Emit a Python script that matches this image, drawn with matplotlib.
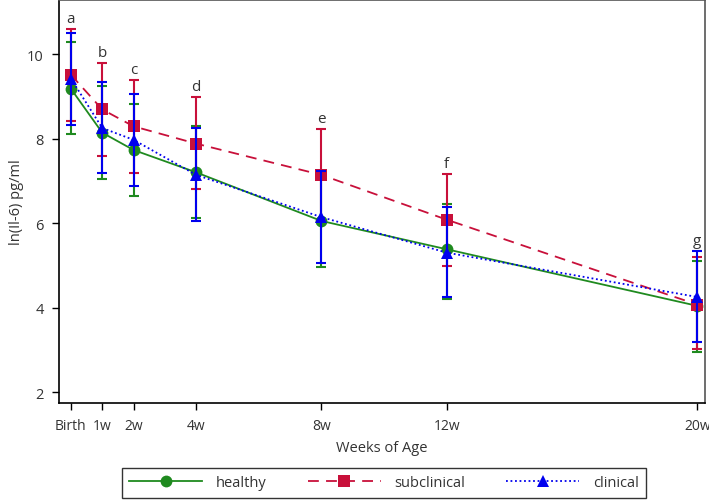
import matplotlib
matplotlib.use("Agg")
import matplotlib.pyplot as plt

plt.rcParams["font.family"] = ["Open Sans", "DejaVu Sans"]

# data
weeks = [0, 1, 2, 4, 8, 12, 20]
tick_labels = ["Birth", "1w", "2w", "4w", "8w", "12w", "20w"]
letters = ["a", "b", "c", "d", "e", "f", "g"]

healthy = [9.18, 8.14, 7.73, 7.20, 6.05, 5.38, 4.04]
healthy_lo = [8.11, 7.04, 6.65, 6.12, 4.97, 4.20, 2.94]
healthy_hi = [10.28, 9.24, 8.82, 8.30, 7.13, 6.44, 5.11]

subclinical = [9.51, 8.69, 8.29, 7.88, 7.14, 6.08, 4.07]
subclinical_lo = [8.42, 7.59, 7.19, 6.80, 6.06, 4.99, 3.02]
subclinical_hi = [10.59, 9.79, 9.38, 8.98, 8.22, 7.17, 5.19]

clinical = [9.42, 8.25, 7.97, 7.14, 6.14, 5.30, 4.25]
clinical_lo = [8.32, 7.18, 6.87, 6.05, 5.05, 4.25, 3.18]
clinical_hi = [10.51, 9.35, 9.05, 8.24, 7.23, 6.39, 5.34]

series = [
    ("healthy", healthy, healthy_lo, healthy_hi, "#1f8a1f", "-", "o", 8.5),
    ("subclinical", subclinical, subclinical_lo, subclinical_hi, "#c8103a", (0, (6, 4)), "s", 8),
    ("clinical", clinical, clinical_lo, clinical_hi, "#0000ee", (0, (1, 1.5)), "^", 9),
]

fig = plt.figure(figsize=(7.09, 5.02), dpi=100)
ax = fig.add_axes([0.0832, 0.1952, 0.9112, 0.8028])

handles = []
for name, mean, lo, hi, color, ls, marker, ms in series:
    err = [[m - l for m, l in zip(mean, lo)], [h - m for m, h in zip(mean, hi)]]
    ax.errorbar(weeks, mean, yerr=err, fmt="none", ecolor=color, elinewidth=1.5,
                capsize=3.6, capthick=1.5)
    h, = ax.plot(weeks, mean, color=color, linestyle=ls, linewidth=1.3,
                 marker=marker, markersize=ms, markeredgewidth=0, label=name)
    handles.append(h)

# significance letters above the highest upper bar
for x, lab, a, b, c in zip(weeks, letters, healthy_hi, subclinical_hi, clinical_hi):
    ax.annotate(lab, (x, max(a, b, c)), xytext=(0, 2), textcoords="offset points",
                ha="center", va="bottom", fontsize=11, color="#333333")

ax.set_xlim(-0.38, 20.25)
ax.set_ylim(1.74, 11.28)
ax.set_xticks(weeks)
ax.set_xticklabels(tick_labels)
ax.set_yticks([2, 4, 6, 8, 10])
ax.tick_params(direction="out", length=5, width=1, labelsize=10.5, colors="black",
               labelcolor="#333333", pad=6)
ax.tick_params(axis="x", labelsize=10)
for s in ax.spines.values():
    s.set_linewidth(1.2)
    s.set_color("black")
ax.spines["top"].set_color("#555555")
ax.spines["right"].set_color("#555555")

ax.set_xlabel("Weeks of Age", fontsize=10.5, color="#333333", labelpad=4.5)
ax.set_ylabel("ln(Il-6) pg/ml", fontsize=10.5, color="#333333", labelpad=2)

leg = fig.legend(handles=handles, loc="center", bbox_to_anchor=(384 / 709, 1 - 484 / 502),
                 ncol=3, fontsize=10.5, handlelength=5, handletextpad=0.95,
                 columnspacing=2.8, frameon=True, fancybox=False, borderpad=0.5)
leg.get_frame().set_edgecolor("black")
leg.get_frame().set_linewidth(1.0)
for t in leg.get_texts():
    t.set_color("#333333")

fig.savefig("out.png", dpi=100)
